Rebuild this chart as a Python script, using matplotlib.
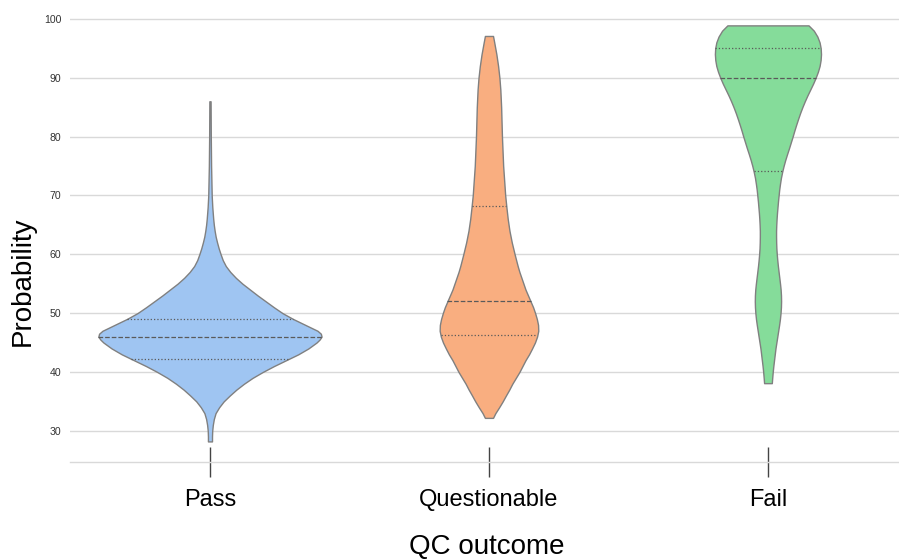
import matplotlib.pyplot as plt
import numpy as np

plt.rcParams['font.family'] = ['Liberation Sans', 'DejaVu Sans']

categories = ['Pass', 'Questionable', 'Fail']
colors = ['#9fc5f2', '#f9ae80', '#85dc9a']

# violin outlines: probability -> half width (relative density)
pass_y = [28.2, 29, 30, 31, 32, 33, 34, 35, 36, 37, 38, 39, 40, 41, 42, 43, 44, 45, 45.5,
          46, 46.5, 47, 48, 49, 50, 51, 52, 53, 54, 55, 56, 57, 58, 59, 60, 61, 62, 63,
          64, 65, 66, 68, 70, 75, 80, 86]
pass_d = [2.0, 2.0, 2.2, 2.8, 3.8, 5.5, 9, 13.5, 19.5, 26, 33.5, 42, 52, 63, 75, 87, 97, 105, 108,
          110, 109.3, 106, 94, 82, 71.5, 63, 55, 47, 39.5, 32, 25.5, 20, 15.6, 12.6, 10.5, 8.6, 7.0, 5.6,
          4.6, 3.8, 3.2, 2.3, 1.7, 1.1, 0.8, 0.6]

quest_y = [32.2, 33, 34, 35, 36, 37, 38, 39, 40, 41, 42, 43, 44, 45, 46, 47, 48, 49,
           50, 51, 52, 53, 54, 55, 56, 57, 58, 59, 60, 62, 64, 66, 68, 70, 75, 80, 85,
           88, 90, 92, 94, 96, 97.1]
quest_d = [4, 6.3, 10, 13.5, 16.7, 20, 23, 26.5, 30, 33, 36, 39.5, 42.5, 45.3, 47.4, 48.6, 48.4, 47.2,
           45.5, 43.5, 41, 38.5, 36, 34, 32, 30, 28.3, 26.8, 25.3, 22.5, 20.2, 18.5, 17.2, 16, 14, 12.8, 12,
           11.2, 10.3, 9, 7.3, 5.2, 4]

fail_y = [38.1, 39, 40, 41, 42, 43, 44, 45, 46, 47, 48, 49, 50, 51, 52, 53, 54, 55, 56,
          57, 58, 59, 60, 61, 62, 63, 64, 65, 66, 67, 68, 69, 70, 71, 72, 73, 74, 75,
          76, 77, 78, 79, 80, 81, 82, 83, 84, 85, 86, 87, 88, 89, 90, 91, 92, 93, 94,
          95, 96, 97, 98, 98.9]
fail_d = [3.8, 4.2, 4.7, 5.3, 6.0, 6.7, 7.4, 8.3, 9.2, 10.1, 11.0, 11.8, 12.4, 12.8, 12.95, 12.85, 12.5, 11.9, 11.2,
          10.5, 9.8, 9.2, 8.7, 8.3, 8.1, 8.0, 8.0, 8.2, 8.5, 8.9, 9.4, 9.9, 10.5, 11.1, 11.9, 12.8, 14.0, 15.4,
          17.0, 18.8, 20.7, 22.5, 24.3, 26, 27.8, 29.7, 31.7, 33.9, 36.3, 38.9, 41.7, 44.5, 47, 49.2, 50.9, 51.9, 52.3,
          52.0, 50.9, 48.7, 45.2, 40]

# lower quartile, median, upper quartile
pass_q = [42.2, 46.0, 49.0]
quest_q = [46.2, 52.0, 68.2]
fail_q = [74.1, 90.0, 95.0]

ys = [pass_y, quest_y, fail_y]
ds = [pass_d, quest_d, fail_d]
qs = [pass_q, quest_q, fail_q]

fig = plt.figure(figsize=(8.99, 5.59), dpi=100)
ax = fig.add_axes([0.0784, 0.1735, 0.931, 0.819])

# scale="area": the widest violin gets width 0.8
dmax = max(max(d) for d in ds)
widths = [0.8 * max(d) / dmax for d in ds]

stats = []
for y, d, q in zip(ys, ds, qs):
    stats.append({'coords': np.array(y), 'vals': np.array(d), 'mean': q[1],
                  'median': q[1], 'min': y[0], 'max': y[-1]})

positions = np.arange(len(categories))
parts = ax.violin(stats, positions=positions, widths=widths,
                  showmeans=False, showextrema=False, showmedians=False)
for body, c in zip(parts['bodies'], colors):
    body.set_facecolor(c)
    body.set_edgecolor('#808080')
    body.set_linewidth(1.0)
    body.set_alpha(1)
    body.set_zorder(2)

# quartile lines
for pos, y, d, q, w in zip(positions, ys, ds, qs, widths):
    for i, val in enumerate(q):
        half = np.interp(val, y, d) / max(d) * w / 2
        ls = '--' if i == 1 else ':'
        ax.hlines(val, pos - half, pos + half, colors='#5a5a5a', linestyles=ls,
                  linewidth=0.9, zorder=3)

ax.set_xlim(-0.5, 2.5)
ax.set_ylim(24.7, 102.5)
ax.set_yticks(range(30, 101, 10))
ax.set_xticks(positions)
ax.set_xticklabels(categories, fontsize=17)

ax.grid(axis='y', color='#d9d9d9', linewidth=1.0)
ax.grid(axis='x', visible=False)
ax.set_axisbelow(True)
for s in ['left', 'top', 'right']:
    ax.spines[s].set_visible(False)
ax.spines['bottom'].set_color('#d9d9d9')
ax.spines['bottom'].set_linewidth(1.0)

ax.tick_params(axis='x', direction='inout', length=21, width=1.0, color='#444444',
               pad=9, labelcolor='black')
ax.tick_params(axis='y', length=0, pad=6.5, labelsize=7.6, labelcolor='#333333')

ax.set_xlabel('QC outcome', fontsize=20)
ax.set_ylabel('Probability', fontsize=20)
ax.xaxis.set_label_coords(0.497, -0.157)
ax.yaxis.set_label_coords(-0.041, 0.395)

fig.savefig('out.png', dpi=100)
